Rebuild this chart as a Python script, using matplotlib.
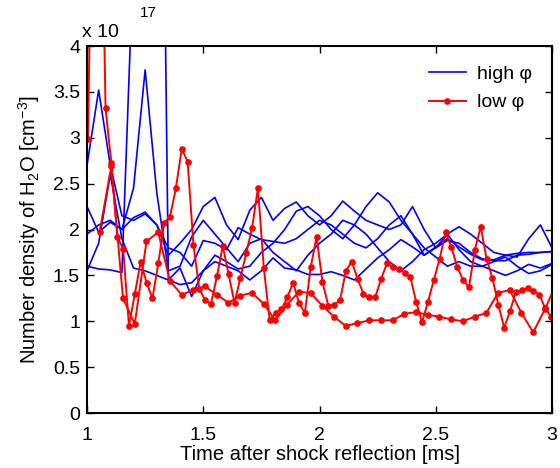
import matplotlib
matplotlib.use("Agg")
import matplotlib.pyplot as plt
import numpy as np

plt.rcParams["font.family"] = ["Liberation Sans", "DejaVu Sans"]
plt.rcParams["mathtext.fontset"] = "custom"
plt.rcParams["mathtext.rm"] = "Liberation Sans"
plt.rcParams["mathtext.it"] = "Liberation Sans:italic"

# time grids [ms]
t_blue = np.linspace(1.0, 3.0, 41)
t_red_fast = np.linspace(1.004, 2.996, 80)
t_red_slow = np.linspace(1.054, 3.02, 40)

# high phi runs (x 1e17 cm^-3)
high_1 = [2.70, 3.52, 2.70, 2.15, 2.10, 2.17, 2.05, 1.72, 1.85, 2.00, 2.25, 2.35, 2.05, 1.89, 2.21,
          2.35, 2.10, 2.23, 2.30, 2.15, 2.05, 2.15, 2.31, 2.20, 2.10, 2.05, 2.00, 2.05, 2.25, 2.00,
          1.80, 1.95, 2.03, 1.95, 1.85, 1.75, 1.72, 1.70, 1.90, 2.05, 1.80]
high_2 = [1.60, 1.57, 1.56, 1.53, 5.00, 9.00, 12.0, 1.45, 1.58, 1.27, 1.55, 1.72, 1.65, 1.57, 1.60,
          1.75, 1.85, 2.00, 2.20, 2.25, 2.15, 2.00, 1.90, 2.05, 2.25, 2.40, 2.30, 2.10, 1.95, 1.72,
          1.80, 1.88, 1.85, 1.75, 1.68, 1.66, 1.66, 1.72, 1.73, 1.75, 1.76]
high_3 = [1.95, 2.05, 2.10, 2.00, 2.45, 3.74, 2.40, 1.55, 1.60, 1.92, 2.10, 1.95, 1.80, 1.65, 1.85,
          1.90, 1.75, 1.65, 1.55, 1.72, 1.85, 1.95, 2.10, 2.05, 1.95, 1.80, 1.65, 1.55, 1.65, 1.78,
          1.85, 1.95, 1.78, 1.65, 1.60, 1.55, 1.50, 1.55, 1.62, 1.58, 1.63]
high_4 = [2.25, 1.97, 2.08, 2.00, 2.13, 2.19, 2.05, 1.80, 1.75, 1.60, 1.88, 1.85, 1.78, 2.02, 1.95,
          1.89, 1.87, 1.85, 1.90, 2.00, 2.10, 2.05, 1.95, 1.85, 1.80, 1.90, 2.05, 2.15, 1.95, 1.80,
          1.70, 1.60, 1.65, 1.60, 1.60, 1.65, 1.70, 1.60, 1.52, 1.55, 1.62]
high_5 = [1.55, 1.85, 2.60, 1.90, 1.58, 1.55, 1.50, 1.45, 1.40, 1.42, 1.55, 1.65, 1.60, 1.55, 1.45,
          1.55, 1.69, 1.58, 1.56, 1.51, 1.51, 1.54, 1.50, 1.45, 1.57, 1.69, 1.78, 1.89, 1.81, 1.72,
          1.81, 1.90, 1.81, 1.73, 1.67, 1.67, 1.72, 1.74, 1.75, 1.75, 1.76]

# low phi runs
low_fast = [2.99, 7.00, 7.00, 3.32, 2.72, 1.92, 1.79, 0.95, 1.30, 1.65, 1.42, 1.25, 1.63, 2.07, 2.14,
            2.45, 2.88, 2.74, 1.83, 1.35, 1.23, 1.19, 1.49, 1.82, 1.51, 1.20, 1.47, 1.74, 2.02, 2.45,
            1.58, 1.01, 1.09, 1.13, 1.26, 1.42, 1.20, 1.09, 1.59, 1.92, 1.43, 1.17, 1.18, 1.23, 1.55,
            1.65, 1.46, 1.30, 1.26, 1.26, 1.46, 1.63, 1.59, 1.57, 1.53, 1.48, 1.21, 0.99, 1.21, 1.45,
            1.68, 1.97, 1.81, 1.59, 1.45, 1.37, 1.78, 2.03, 1.68, 1.47, 1.18, 0.93, 1.11, 1.32, 1.34,
            1.36, 1.33, 1.29, 1.14, 1.05]
low_slow = [1.97, 2.69, 1.25, 0.97, 1.87, 1.97, 1.44, 1.29, 1.34, 1.38, 1.29, 1.20, 1.28, 1.31, 1.19,
            1.01, 1.18, 1.32, 1.31, 1.17, 1.05, 0.95, 0.98, 1.01, 1.01, 1.01, 1.08, 1.10, 1.07, 1.05,
            1.02, 1.00, 1.05, 1.09, 1.31, 1.34, 1.09, 0.88, 1.13, 1.42]

fig = plt.figure(figsize=(5.6, 4.68), dpi=100)
ax = fig.add_axes([0.1554, 0.1175, 0.8303, 0.7842])

for i, s in enumerate([high_1, high_2, high_3, high_4, high_5]):
    ax.plot(t_blue, s, color="#0000ff", lw=1.2, label="high \u03c6" if i == 0 else None)
ax.plot(t_red_fast, low_fast, color="#ff0000", lw=1.4, marker="o", ms=3.8,
        label="low \u03c6")
ax.plot(t_red_slow, low_slow, color="#ff0000", lw=1.4, marker="o", ms=3.8)

ax.set_xlim(1, 3)
ax.set_ylim(0, 4)
ax.set_xticks([1, 1.5, 2, 2.5, 3])
ax.set_xticklabels(["1", "1.5", "2", "2.5", "3"])
ax.set_yticks([0, 0.5, 1, 1.5, 2, 2.5, 3, 3.5, 4])
ax.set_yticklabels(["0", "0.5", "1", "1.5", "2", "2.5", "3", "3.5", "4"])
ax.tick_params(axis="both", direction="in", top=True, right=True, length=5, width=1,
               labelsize=14)
ax.tick_params(axis="x", pad=10)
ax.tick_params(axis="y", pad=5)
for sp in ax.spines.values():
    sp.set_linewidth(1.5)

ax.set_xlabel("Time after shock reflection [ms]", fontsize=14.5, labelpad=1)
ax.set_ylabel("Number density of H$_2$O [cm$^{-3}$]", fontsize=14.5, labelpad=8)
fig.text(0.146, 0.912, "x 10", fontsize=14, ha="left", va="bottom")
fig.text(0.250, 0.958, "17", fontsize=11, ha="left", va="bottom")

leg = ax.legend(loc="upper right", fontsize=14, frameon=False, handlelength=1.9,
                handletextpad=0.6, borderaxespad=0.6, labelspacing=0.55)

fig.savefig("out.png", dpi=100)
